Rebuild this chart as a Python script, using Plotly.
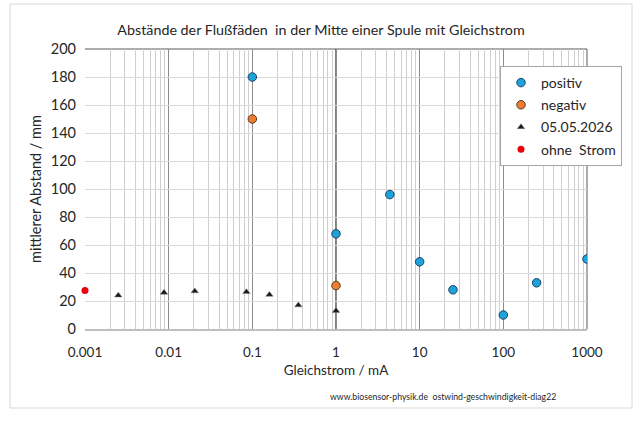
import plotly.graph_objects as go

# --- data ---
pos_x = [0.1, 1, 4.4, 10, 25, 100, 250, 1000]
pos_y = [180, 68, 96, 48, 28, 10, 33, 50]
neg_x = [0.1, 1]
neg_y = [150, 31]
tri_x = [0.0025, 0.0088, 0.0205, 0.085, 0.16, 0.355, 1]
tri_y = [24, 26, 27, 26.5, 24.5, 17, 13]
zero_x = [0.001]
zero_y = [27.5]

x_tickvals = [0.001, 0.01, 0.1, 1, 10, 100, 1000]
x_ticktext = ["0.001", "0.01", "0.1", "1", "10", "100", "1000"]
y_tickvals = list(range(0, 201, 20))

FONT = "Lato"

fig = go.Figure()
fig.add_trace(go.Scatter(x=pos_x, y=pos_y, mode="markers", name="positiv",
                         legendgroup="a",
                         marker=dict(symbol="circle", size=8.5, color="#1CA3DA",
                                     line=dict(color="#1F3F66", width=1))))
fig.add_trace(go.Scatter(x=neg_x, y=neg_y, mode="markers", name="negativ",
                         legendgroup="b",
                         marker=dict(symbol="circle", size=8.5, color="#ED7D31",
                                     line=dict(color="#5A3A20", width=1))))
fig.add_trace(go.Scatter(x=tri_x, y=tri_y, mode="markers", name="05.05.2026",
                         legendgroup="c",
                         marker=dict(symbol="triangle-up", size=6.5, color="#1a1a1a",
                                     line=dict(color="#808080", width=0.5))))
fig.add_trace(go.Scatter(x=zero_x, y=zero_y, mode="markers", name="ohne  Strom",
                         legendgroup="d", cliponaxis=False,
                         marker=dict(symbol="circle", size=7, color="#E8000B")))

# vertical axis line crossing at 1
fig.add_shape(type="line", xref="x", yref="paper", x0=1, x1=1, y0=0, y1=1,
              line=dict(color="black", width=1), layer="below")
# top and right border of plot area
fig.add_shape(type="line", xref="paper", yref="paper", x0=0, x1=1, y0=1, y1=1,
              line=dict(color="#595959", width=1), layer="below")
fig.add_shape(type="line", xref="paper", yref="paper", x0=1, x1=1, y0=0, y1=1,
              line=dict(color="#595959", width=1), layer="below")
# outer chart frame
fig.add_shape(type="rect", xref="paper", yref="paper",
              x0=(10 - 85) / 502, x1=(632 - 85) / 502,
              y0=(329 - 408) / 280, y1=(329 - 4) / 280,
              line=dict(color="#d9d9d9", width=1), fillcolor="rgba(0,0,0,0)",
              layer="below")

fig.update_layout(
    width=644, height=424,
    margin=dict(l=85, r=57, t=49, b=95),
    paper_bgcolor="white", plot_bgcolor="white",
    font=dict(family=FONT, color="#262626", size=13),
    title=dict(text="Abstände der Flußfäden  in der Mitte einer Spule mit Gleichstrom",
               x=321 / 644, xanchor="center", y=1 - 30 / 424, yanchor="middle",
               font=dict(size=14.3, family=FONT, color="#262626")),
    showlegend=True,
    legend=dict(x=(500 - 85) / 502, y=(329 - 66) / 280, xanchor="left", yanchor="top",
                bgcolor="white", bordercolor="#a6a6a6", borderwidth=1,
                font=dict(size=14, family=FONT, color="#262626"),
                traceorder="grouped", tracegroupgap=1, itemwidth=30),
)

fig.update_xaxes(type="log", range=[-3, 3],
                 tickvals=x_tickvals, ticktext=x_ticktext,
                 showgrid=True, gridcolor="#8c8c8c", gridwidth=1,
                 minor=dict(showgrid=True, dtick="D1", gridcolor="#cfcfcf", gridwidth=1,
                            ticks=""),
                 showline=True, linecolor="#bfbfbf", linewidth=2,
                 ticks="", ticklen=0, ticklabelstandoff=10,
                 tickfont=dict(size=13.5, family=FONT, color="#262626"),
                 title=dict(text="Gleichstrom / mA", standoff=6,
                            font=dict(size=13.5, family=FONT, color="#262626")),
                 zeroline=False)
fig.update_yaxes(range=[0, 200], tickvals=y_tickvals,
                 showgrid=True, gridcolor="#d9d9d9", gridwidth=1,
                 showline=False, ticks="", zeroline=False, ticklabelstandoff=8,
                 tickfont=dict(size=14.5, family=FONT, color="#262626"),
                 title=dict(text="mittlerer Abstand / mm", standoff=5,
                            font=dict(size=14.5, family=FONT, color="#262626")))

fig.add_annotation(text="www.biosensor-physik.de  ostwind-geschwindigkeit-diag22",
                   xref="paper", yref="paper",
                   x=(443 - 85) / 502, y=(329 - 396) / 280,
                   xanchor="center", yanchor="middle", showarrow=False,
                   font=dict(size=8.7, family=FONT, color="#262626"))

fig.write_html("out.html")
